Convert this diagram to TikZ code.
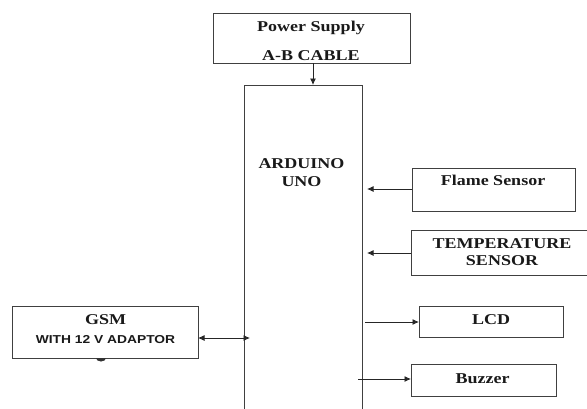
\documentclass[tikz,border=0pt]{standalone}
\usepackage{fontspec}
\usetikzlibrary{arrows.meta}
\newfontfamily\boxserif[FakeStretch=1.2]{Liberation Serif}
\newfontfamily\boxsans[FakeStretch=1.2]{Liberation Sans}
\begin{document}
\begin{tikzpicture}[x=1pt,y=-1pt,
  blk/.style={draw=black!75,line width=0.9pt,inner sep=0pt,outer sep=0pt},
  lbl/.style={font=\boxserif\bfseries\fontsize{15}{18}\selectfont,inner sep=0pt,anchor=base,text=black!90},
  slbl/.style={font=\boxsans\bfseries\fontsize{11.5}{14}\selectfont,inner sep=0pt,anchor=base,text=black!90},
  tip/.style={Latex[length=6.5pt,width=6pt]},
  conn/.style={draw=black!85,line width=0.8pt,-{Latex[length=6.5pt,width=6pt]}},
  dconn/.style={draw=black!85,line width=0.8pt,{Latex[length=6.5pt,width=6pt]}-{Latex[length=6.5pt,width=6pt]}}]
\useasboundingbox (0,0) rectangle (587,408);
\clip (0,0) rectangle (587,408);
% boxes
\node[blk,minimum width=197pt,minimum height=50pt] (pwr) at (311.5,38) {};
\node[blk,minimum width=118pt,minimum height=340pt] (ard) at (303,255) {};
\node[blk,minimum width=163pt,minimum height=43pt] (flame) at (493.5,189.5) {};
\node[blk,minimum width=185pt,minimum height=45pt] (temp) at (503.5,252.5) {};
\node[blk,minimum width=186pt,minimum height=52pt] (gsm) at (105,332) {};
\node[blk,minimum width=144pt,minimum height=31pt] (lcd) at (491,321.5) {};
\node[blk,minimum width=145pt,minimum height=32pt] (buz) at (483.5,380) {};
% texts
\node[lbl] (t1) at (311,31) {Power Supply};
\node[lbl] (t2) at (311,60) {A-B CABLE};
\node[lbl] (t3) at (301.5,168) {ARDUINO};
\node[lbl] (t4) at (301.5,186) {UNO};
\node[lbl] (t5) at (493,185) {Flame Sensor};
\node[lbl] (t6) at (502,248) {TEMPERATURE};
\node[lbl] (t7) at (502,265) {SENSOR};
\node[lbl] (t8) at (105.5,324) {GSM};
\node[slbl] (t9) at (105.5,343) {WITH 12 V ADAPTOR};
\node[lbl] (t10) at (491,324) {LCD};
\node[lbl] (t11) at (482.5,383) {Buzzer};
% small mark under GSM box
\fill[black!80] (96,358) arc[start angle=180,end angle=360,x radius=5pt,y radius=3.5pt] -- cycle;
% connectors
\coordinate (pa) at (313,63);
\coordinate (fa) at (367,189);
\coordinate (ta) at (367,253);
\coordinate (ga) at (250,338);
\coordinate (la) at (365,322);
\coordinate (ba) at (358,379);
\draw[conn] (pwr.south -| pa) -- (ard.north -| pa);
\draw[conn] (flame.west |- fa) -- (fa);
\draw[conn] (temp.west |- ta) -- (ta);
\draw[dconn] (gsm.east |- ga) -- (ga);
\draw[conn] (la) -- (lcd.west |- la);
\draw[conn] (ba) -- (buz.west |- ba);
\end{tikzpicture}
\end{document}
